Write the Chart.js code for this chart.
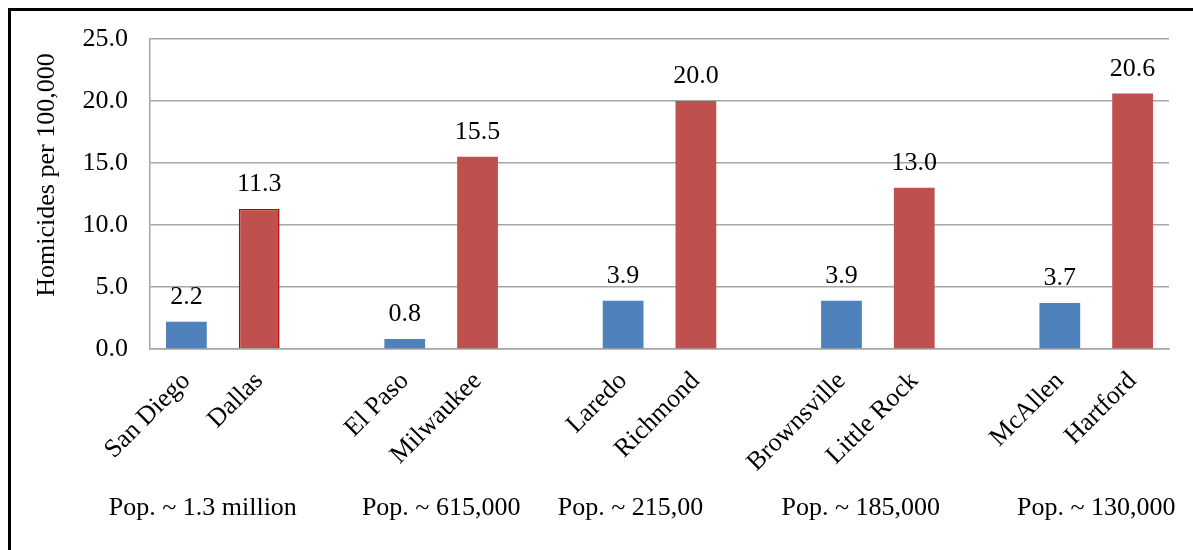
<!DOCTYPE html>
<html>
<head>
<meta charset="utf-8">
<script src="https://cdn.jsdelivr.net/npm/chart.js@4"></script>
<style>
  html, body { margin: 0; padding: 0; background: #fff; overflow: hidden; }
  #wrap { position: relative; width: 1193px; height: 550px; }
  #frame { position: absolute; left: 8px; top: 8px; width: 1300px; height: 700px;
           border: 3px solid #000; pointer-events: none; }
</style>
</head>
<body>
<div id="wrap">
  <canvas id="homicideChart"></canvas>
  <div id="frame"></div>
</div>
<script>
// blank slots keep the gap between city pairs
const cities = ['San Diego', 'Dallas', '', 'El Paso', 'Milwaukee', '', 'Laredo', 'Richmond', '',
                'Brownsville', 'Little Rock', '', 'McAllen', 'Hartford'];
const homicideRates = [2.2, 11.3, null, 0.8, 15.5, null, 3.9, 20.0, null, 3.9, 13.0, null, 3.7, 20.6];
const popLabels = ['Pop. ~ 1.3 million', 'Pop. ~ 615,000', 'Pop. ~ 215,00', 'Pop. ~ 185,000', 'Pop. ~ 130,000'];
const yTicks = [0, 5, 10, 15, 20, 25];
const yTitle = 'Homicides per 100,000';

const BLUE = '#4F81BD';
const RED = '#C0504D';
const FONT = '"Liberation Serif", "Times New Roman", serif';
const FS = 26;

// odd slots inside each pair are the larger cities (red)
const barColors = cities.map(function (c, i) { return (i % 3 === 1) ? RED : BLUE; });
// only Dallas has the darker outline in the original
const barBorderWidths = cities.map(function (c, i) { return i === 1 ? 1.5 : 0; });

const valueLabels = {
    id: 'valueLabels',
    afterDatasetsDraw: function (chart) {
        const ctx = chart.ctx;
        const meta = chart.getDatasetMeta(0);
        ctx.save();
        ctx.font = FS + 'px ' + FONT;
        ctx.fillStyle = '#000';
        ctx.textAlign = 'center';
        ctx.textBaseline = 'alphabetic';
        meta.data.forEach(function (bar, i) {
            const v = homicideRates[i];
            if (v === null) return;
            ctx.fillText(v.toFixed(1), bar.x, bar.y - 18);
        });
        ctx.restore();
    }
};

// pop labels under each pair + the y title (sits a bit above the axis middle in the original)
const extraText = {
    id: 'extraText',
    afterDraw: function (chart) {
        const ctx = chart.ctx;
        const x = chart.scales.x;
        const nudge = [-20, 0, -29, -17, 0];
        ctx.save();
        ctx.font = FS + 'px ' + FONT;
        ctx.fillStyle = '#000';
        ctx.textAlign = 'center';
        ctx.textBaseline = 'middle';
        popLabels.forEach(function (txt, g) {
            const cx = (x.getPixelForValue(g * 3) + x.getPixelForValue(g * 3 + 1)) / 2;
            ctx.fillText(txt, cx + nudge[g], 508);
        });
        ctx.translate(47, 175);
        ctx.rotate(-Math.PI / 2);
        ctx.fillText(yTitle, 0, 0);
        ctx.restore();
    }
};

document.addEventListener('DOMContentLoaded', function () {
    const ctx = document.getElementById('homicideChart').getContext('2d');
    new Chart(ctx, {
        type: 'bar',
        data: {
            labels: cities,
            datasets: [{
                data: homicideRates,
                backgroundColor: barColors,
                borderColor: '#C00000',
                borderWidth: barBorderWidths,
                categoryPercentage: 1.0,
                barPercentage: 0.56
            }]
        },
        options: {
            responsive: true,
            maintainAspectRatio: false,
            animation: false,
            layout: { padding: { top: 39, right: 24, left: 0, bottom: 0 } },
            plugins: {
                legend: { display: false },
                tooltip: { enabled: false }
            },
            scales: {
                x: {
                    grid: { display: false, drawTicks: false },
                    border: { color: '#a6a6a6', width: 1.5 },
                    ticks: {
                        autoSkip: false,
                        minRotation: 45,
                        maxRotation: 45,
                        padding: 17,
                        color: '#000',
                        font: { family: FONT, size: FS }
                    },
                    afterFit: function (scale) { scale.height = 201; }
                },
                y: {
                    min: 0,
                    max: 25,
                    afterBuildTicks: function (scale) {
                        scale.ticks = yTicks.map(function (v) { return { value: v }; });
                    },
                    grid: { color: '#a6a6a6', lineWidth: 1.5, drawTicks: false },
                    border: { color: '#a6a6a6', width: 1.5 },
                    ticks: {
                        padding: 22,
                        color: '#000',
                        font: { family: FONT, size: FS },
                        callback: function (v) { return Number(v).toFixed(1); }
                    },
                    afterFit: function (scale) { scale.width = 150; }
                }
            }
        },
        plugins: [valueLabels, extraText]
    });
});
</script>
</body>
</html>
